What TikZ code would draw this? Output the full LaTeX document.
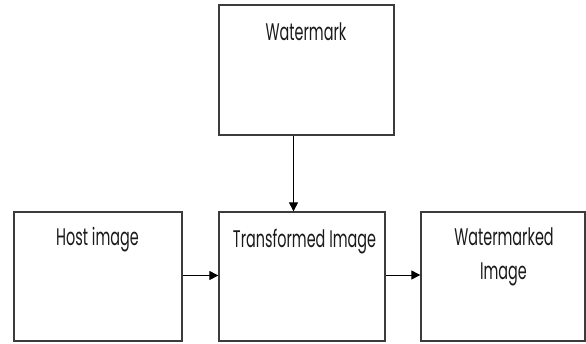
\documentclass[tikz,border=0pt]{standalone}
\usepackage{fontspec}
\setmainfont{Poppins}[FakeStretch=0.6]
\usetikzlibrary{arrows.meta}
\definecolor{boxline}{HTML}{3C3C3C}
\definecolor{txt}{HTML}{1A1A1A}
\begin{document}
\begin{tikzpicture}[x=1pt,y=-1pt,
  box/.style={draw=boxline, line width=1.3pt, minimum width=#1, inner sep=0pt},
  lbl/.style={anchor=base, inner sep=0pt, text=txt, font=\fontsize{24}{34}\selectfont},
  arr/.style={draw=black, line width=1pt, -{Triangle[length=9pt,width=9pt]}}]
\useasboundingbox (0,0) rectangle (586,343);
\node[box=175pt, minimum height=130pt] (wm) at (306.5,70) {};
\node[box=168pt, minimum height=129pt] (host) at (98,276.5) {};
\node[box=166pt, minimum height=129pt] (tr) at (302,276.5) {};
\node[box=164pt, minimum height=129pt] (wmd) at (503,276.5) {};
\node[lbl] (wmt) at (306,40) {Watermark};
\node[lbl] (hostt) at (97.5,245.5) {Host image};
\node[lbl] (trt) at (304.5,247) {Transformed Image};
\node[lbl] (wmdt1) at (504,245) {Watermarked};
\node[lbl] (wmdt2) at (503.5,279) {Image};
\draw[arr] ([xshift=-13pt]wm.south) -- ([xshift=-13pt]wm.south |- tr.north);
\draw[arr] ([yshift=1pt]host.east) -- ([yshift=1pt]host.east -| tr.west);
\draw[arr] ([yshift=1.5pt]tr.east) -- ([yshift=1.5pt]tr.east -| wmd.west);
\end{tikzpicture}
\end{document}
